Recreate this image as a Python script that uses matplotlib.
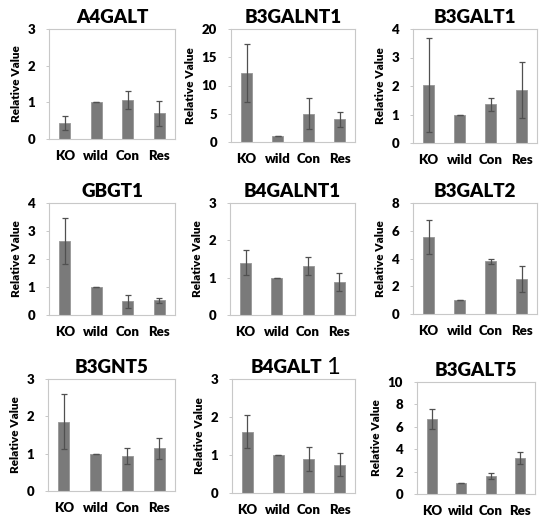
import matplotlib.pyplot as plt
import numpy as np

plt.rcParams['font.family'] = ['Lato', 'DejaVu Sans']
plt.rcParams['font.weight'] = 'heavy'

groups = ["KO", "wild", "Con", "Res"]

titles = ["A4GALT", "B3GALNT1", "B3GALT1",
          "GBGT1", "B4GALNT1", "B3GALT2",
          "B3GNT5", "B4GALT", "B3GALT5"]

a4galt = [0.44, 1.0, 1.07, 0.70]
a4galt_err = [0.20, 0.0, 0.25, 0.35]
b3galnt1 = [12.2, 1.0, 5.0, 4.0]
b3galnt1_err = [5.2, 0.0, 2.7, 1.3]
b3galt1 = [2.04, 1.0, 1.36, 1.86]
b3galt1_err = [1.65, 0.0, 0.23, 0.97]
gbgt1 = [2.63, 1.0, 0.49, 0.52]
gbgt1_err = [0.82, 0.0, 0.24, 0.08]
b4galnt1 = [1.40, 1.0, 1.31, 0.89]
b4galnt1_err = [0.33, 0.0, 0.24, 0.24]
b3galt2 = [5.55, 1.0, 3.8, 2.52]
b3galt2_err = [1.2, 0.0, 0.2, 0.92]
b3gnt5 = [1.86, 0.99, 0.94, 1.14]
b3gnt5_err = [0.73, 0.0, 0.22, 0.29]
b4galt1 = [1.61, 1.0, 0.90, 0.75]
b4galt1_err = [0.43, 0.0, 0.32, 0.29]
b3galt5 = [6.7, 1.0, 1.58, 3.21]
b3galt5_err = [0.92, 0.0, 0.27, 0.52]

values = [a4galt, b3galnt1, b3galt1, gbgt1, b4galnt1, b3galt2, b3gnt5, b4galt1, b3galt5]
errors = [a4galt_err, b3galnt1_err, b3galt1_err, gbgt1_err, b4galnt1_err,
          b3galt2_err, b3gnt5_err, b4galt1_err, b3galt5_err]
ymax = [3, 20, 4, 4, 3, 8, 3, 3, 10]
ystep = [1, 5, 1, 1, 1, 2, 1, 1, 2]

# axes boxes in pixels: left, right, top, bottom
boxes = [(49, 175, 29, 139), (231, 355, 29, 142), (413, 537, 29, 143),
         (49, 175, 203, 315), (230, 355, 203, 315), (413, 537, 203, 314),
         (48, 175, 379, 491), (232, 355, 379, 493), (417, 535, 382, 494)]

W, H = 541, 517
fig = plt.figure(figsize=(W / 100, H / 100), dpi=100)

for i in range(9):
    l, r, t, b = boxes[i]
    ax = fig.add_axes([l / W, 1 - b / H, (r - l) / W, (b - t) / H])
    x = np.arange(len(groups))
    ax.bar(x, values[i], width=0.35, color="#7a7a7a", edgecolor="#969696", linewidth=0.6)
    ax.errorbar(x, values[i], yerr=errors[i], fmt="none", ecolor="#505050",
                elinewidth=0.9, capsize=2.5, capthick=0.9)
    ax.set_xlim(-0.5, 3.5)
    ax.set_ylim(0, ymax[i])
    ax.set_yticks(np.arange(0, ymax[i] + 0.01, ystep[i]))
    ax.set_xticks(x)
    ax.set_xticklabels(groups, fontsize=9.5, fontweight="heavy")
    ax.tick_params(axis="x", length=0, pad=8)
    ax.tick_params(axis="y", length=2, width=0.6, color="#bfbfbf", labelsize=9.5, pad=8)
    for lab in ax.get_yticklabels():
        lab.set_fontweight("heavy")
    for s in ax.spines.values():
        s.set_color("#c8c8c8")
        s.set_linewidth(0.8)
    ax.set_ylabel("Relative Value", fontsize=8.5, fontweight="heavy", labelpad=4)
    tt = ax.set_title(titles[i], fontsize=13.5, fontweight="heavy", pad=4)
    if titles[i] == "B4GALT":
        tt.set_x(0.44)
        ax.annotate("1", xy=(1, 0), xycoords=tt, xytext=(3, -1), textcoords="offset points",
                    ha="left", va="bottom", fontsize=17, fontweight="normal")

fig.savefig("out.png", dpi=100)
